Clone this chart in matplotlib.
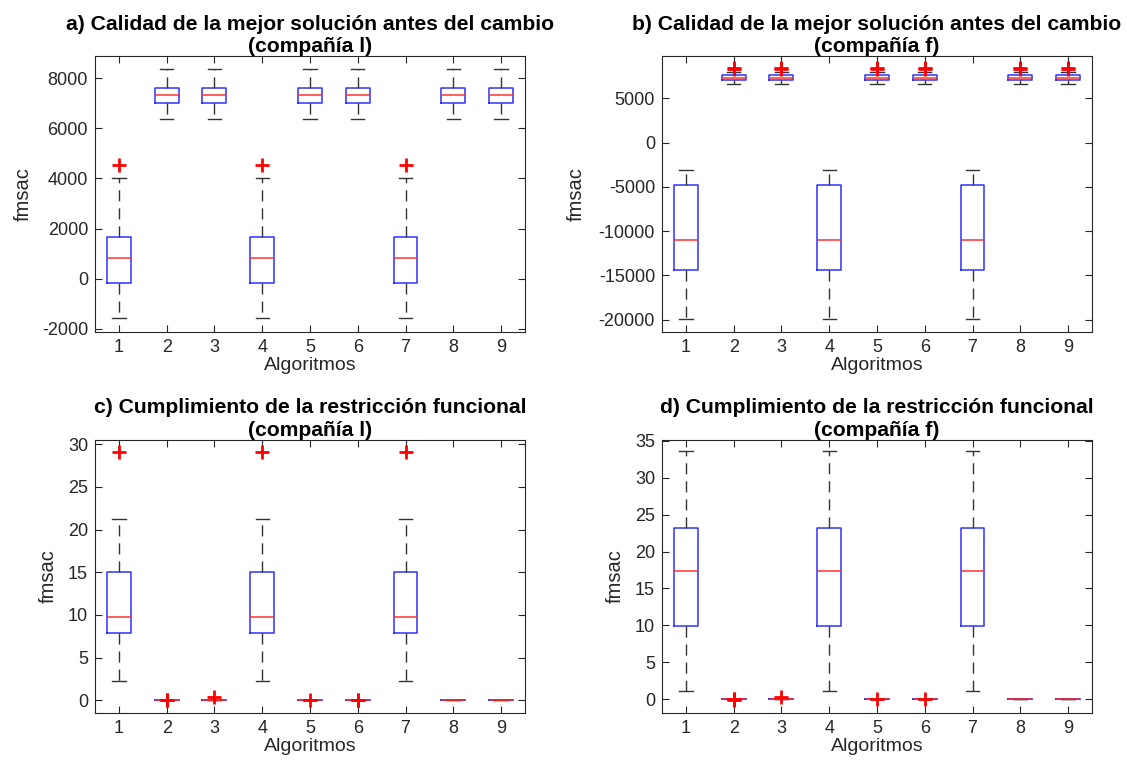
import matplotlib
matplotlib.use("Agg")
import matplotlib.pyplot as plt

plt.rcParams['font.family'] = ['Liberation Sans', 'DejaVu Sans']
plt.rcParams['axes.unicode_minus'] = False

# algoritmos 1..9
algoritmos = [1, 2, 3, 4, 5, 6, 7, 8, 9]

# a) calidad compañía l
a_whislo = [-1560, 6350, 6350, -1560, 6350, 6350, -1560, 6350, 6350]
a_q1     = [-180, 7020, 7020, -180, 7020, 7020, -180, 7020, 7020]
a_med    = [840, 7320, 7320, 840, 7320, 7320, 840, 7320, 7320]
a_q3     = [1650, 7620, 7620, 1650, 7620, 7620, 1650, 7620, 7620]
a_whishi = [4000, 8350, 8350, 4000, 8350, 8350, 4000, 8350, 8350]
a_fliers = [[4550], [], [], [4550], [], [], [4550], [], []]

# b) calidad compañía f
b_whislo = [-19880, 6600, 6600, -19880, 6600, 6600, -19880, 6600, 6600]
b_q1     = [-14440, 7050, 7050, -14440, 7050, 7050, -14440, 7050, 7050]
b_med    = [-11000, 7320, 7320, -11000, 7320, 7320, -11000, 7320, 7320]
b_q3     = [-4800, 7650, 7650, -4800, 7650, 7650, -4800, 7650, 7650]
b_whishi = [-3100, 8000, 8000, -3100, 8000, 8000, -3100, 8000, 8000]
b_fliers = [[], [8300, 8400], [8300, 8400], [], [8300, 8400], [8300, 8400], [], [8300, 8400], [8300, 8400]]

# c) restricción funcional compañía l
c_whislo = [2.2, 0, 0, 2.2, 0, 0, 2.2, 0, 0]
c_q1     = [7.85, 0, 0, 7.85, 0, 0, 7.85, 0, 0]
c_med    = [9.8, 0, 0, 9.8, 0, 0, 9.8, 0, 0]
c_q3     = [15.0, 0, 0, 15.0, 0, 0, 15.0, 0, 0]
c_whishi = [21.2, 0, 0, 21.2, 0, 0, 21.2, 0, 0]
c_fliers = [[29.1], [0.0, 0.02], [0.35], [29.1], [0.05], [0.0, 0.03], [29.1], [], []]

# d) restricción funcional compañía f
d_whislo = [1.1, 0, 0, 1.1, 0, 0, 1.1, 0, 0]
d_q1     = [9.95, 0, 0, 9.95, 0, 0, 9.95, 0, 0]
d_med    = [17.4, 0, 0, 17.4, 0, 0, 17.4, 0, 0]
d_q3     = [23.25, 0, 0, 23.25, 0, 0, 23.25, 0, 0]
d_whishi = [33.55, 0, 0, 33.55, 0, 0, 33.55, 0, 0]
d_fliers = [[], [-0.15, 0.0, 0.1], [0.35], [], [0.0], [0.0], [], [], []]

titulos = [
    "a) Calidad de la mejor solución antes del cambio\n(compañía l)",
    "b) Calidad de la mejor solución antes del cambio\n(compañía f)",
    "c) Cumplimiento de la restricción funcional\n(compañía l)",
    "d) Cumplimiento de la restricción funcional\n(compañía f)",
]
ylims = [(-2120, 8880), (-21400, 9780), (-1.5, 30.5), (-1.85, 35.1)]
yticks = [
    [-2000, 0, 2000, 4000, 6000, 8000],
    [-20000, -15000, -10000, -5000, 0, 5000],
    [0, 5, 10, 15, 20, 25, 30],
    [0, 5, 10, 15, 20, 25, 30, 35],
]
datos = [
    (a_whislo, a_q1, a_med, a_q3, a_whishi, a_fliers),
    (b_whislo, b_q1, b_med, b_q3, b_whishi, b_fliers),
    (c_whislo, c_q1, c_med, c_q3, c_whishi, c_fliers),
    (d_whislo, d_q1, d_med, d_q3, d_whishi, d_fliers),
]
posiciones = [
    [0.0843, 0.566, 0.3815, 0.3608],
    [0.5874, 0.566, 0.3815, 0.3608],
    [0.0843, 0.068, 0.3815, 0.3569],
    [0.5874, 0.068, 0.3815, 0.3569],
]
# posición x de la etiqueta "fmsac" (fracción del eje)
ylabel_x = [-0.145, -0.178, -0.087, -0.086]

fig = plt.figure(figsize=(11.27, 7.65), dpi=100)
gris = '#262626'

for i in range(4):
    ax = fig.add_axes(posiciones[i])
    wlo, q1, med, q3, whi, fl = datos[i]
    stats = []
    for k in range(len(algoritmos)):
        stats.append(dict(whislo=wlo[k], q1=q1[k], med=med[k], q3=q3[k],
                          whishi=whi[k], fliers=fl[k]))
    ax.bxp(stats, positions=algoritmos, widths=0.5,
           boxprops=dict(color='#3030ff', linewidth=1.1),
           medianprops=dict(color='#ff3030', linewidth=1.1, zorder=4),
           whiskerprops=dict(color='#333333', linestyle=(0, (8, 5)), linewidth=1.0),
           capprops=dict(color='#333333', linewidth=1.0),
           capwidths=0.28,
           flierprops=dict(marker='+', markeredgecolor='red', markersize=10,
                           markeredgewidth=2, linestyle='none', zorder=5))
    ax.set_xlim(0.5, 9.5)
    ax.set_ylim(*ylims[i])
    ax.set_yticks(yticks[i])
    ax.set_xticks(algoritmos)
    ax.set_xticklabels([str(a) for a in algoritmos])
    ax.tick_params(direction='in', top=True, right=True, labelsize=13,
                   colors=gris, length=5, pad=5)
    for s in ax.spines.values():
        s.set_color(gris)
        s.set_linewidth(0.8)
    ax.set_title(titulos[i], fontsize=15.2, fontweight='bold', pad=3,
                 linespacing=1.22)
    ax.set_xlabel('Algoritmos', fontsize=14, color=gris, labelpad=1)
    ax.set_ylabel('fmsac', fontsize=14.5, color=gris)
    ax.yaxis.set_label_coords(ylabel_x[i], 0.5)

fig.savefig('out.png', dpi=100)
